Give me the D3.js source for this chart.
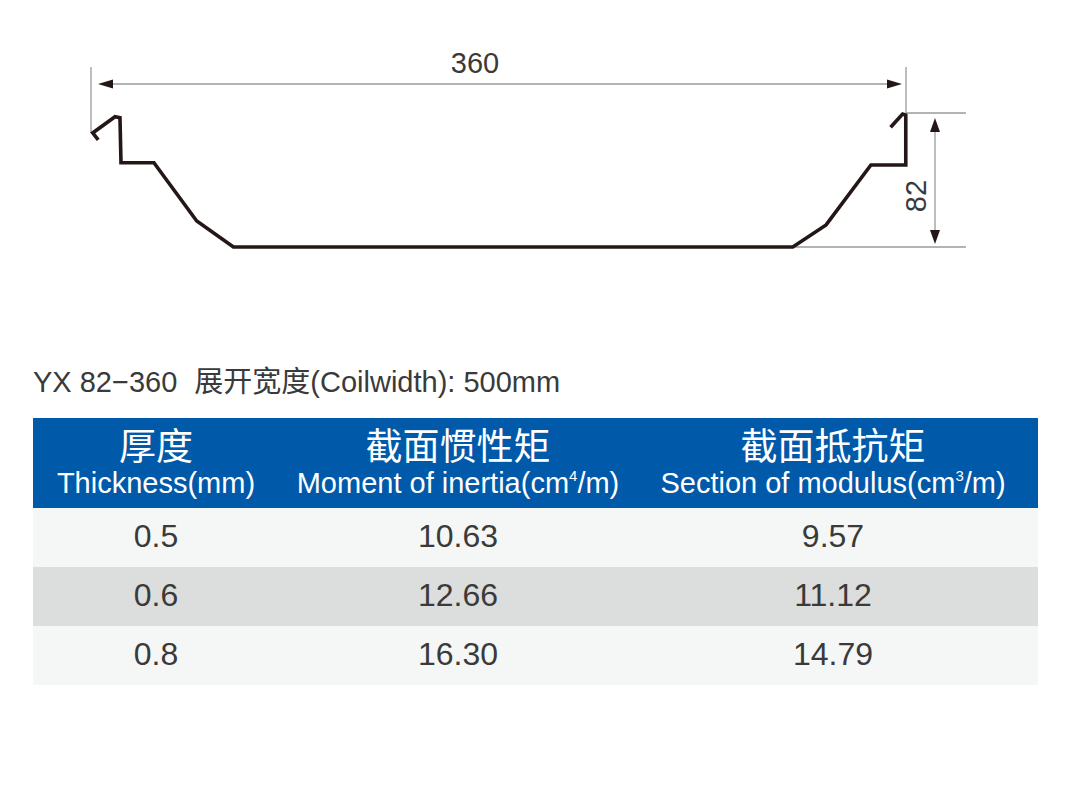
<!DOCTYPE html>
<html><head><meta charset="utf-8">
<script src="https://cdnjs.cloudflare.com/ajax/libs/d3/7.8.5/d3.min.js"></script>
<style>html,body{margin:0;padding:0;background:#fff}svg{display:block}
text{font-family:"Liberation Sans",Arial,sans-serif}
.cjk{font-family:"Noto Sans CJK SC","Liberation Sans",sans-serif}</style>
</head><body><svg id="c" width="1083" height="792"></svg>
<script>
// profile section in mm: [distance along width, height above base]
const profileX=[3.2,0.75,10.6,12.8,13.25,27.8,46.7,62.9,310,324.7,344.5,359.9,359.9,358.5,353.2];
const profileH=[65.5,69.8,79.7,79.1,51.6,51.6,15.9,0,0,13.5,50.2,50.2,80.8,81.4,73.3];
const widthLabel="360", heightLabel="82";
const titleLatin1="YX 82−360", titleCjk="展开宽度", titleLatin2="(Coilwidth): 500mm";
const columnsZh=["厚度","截面惯性矩","截面抵抗矩"];
const thickness=["0.5","0.6","0.8"];
const inertia=["10.63","12.66","16.30"];
const modulus=["9.57","11.12","14.79"];

const svg=d3.select("#c");
const x=d3.scaleLinear().domain([0,360]).range([91,906]);
const y=d3.scaleLinear().domain([0,82]).range([247,113]);
const grey="#9a9a9a", ink="#231815", txt="#3a3a3a";

function seg(x1,y1,x2,y2,w=1.3,c=grey){svg.append("line").attr("x1",x1).attr("y1",y1).attr("x2",x2).attr("y2",y2).attr("stroke",c).attr("stroke-width",w);}
// extension lines
seg(x(0),67,x(0),133);
seg(x(360),67,x(360),113);
seg(x(360),y(82),966,y(82));
seg(x(305),y(0),966,y(0));
// dimension lines
const dimY=84, dimX=935;
seg(x(0)+12,dimY,x(360)-12,dimY);
seg(dimX,y(82)+12,dimX,y(0)-12);
function arrow(pts){svg.append("path").attr("d",d3.line()(pts)+"Z").attr("fill",ink);}
arrow([[x(0)+7,dimY],[x(0)+22,dimY-4.5],[x(0)+22,dimY+4.5]]);
arrow([[x(360)-4,dimY],[x(360)-19,dimY-4.5],[x(360)-19,dimY+4.5]]);
arrow([[dimX,y(82)+5],[dimX-5,y(82)+19],[dimX+5,y(82)+19]]);
arrow([[dimX,y(0)-3],[dimX-5,y(0)-17],[dimX+5,y(0)-17]]);
svg.append("text").attr("x",475).attr("y",73).attr("text-anchor","middle").attr("font-size",29).attr("fill",txt).text(widthLabel);
svg.append("text").attr("transform","translate(926,196) rotate(-90)").attr("text-anchor","middle").attr("font-size",29).attr("fill",txt).text(heightLabel);

// profile
svg.append("path").datum(d3.zip(profileX,profileH))
  .attr("d",d3.line().x(d=>x(d[0])).y(d=>y(d[1])))
  .attr("fill","none").attr("stroke",ink).attr("stroke-width",3.6).attr("stroke-linejoin","miter");

// title
const t=svg.append("text").attr("x",33).attr("y",392).attr("font-size",29).attr("fill",txt);
t.append("tspan").text(titleLatin1);
t.append("tspan").attr("dx",17).attr("class","cjk").attr("font-size",29).text(titleCjk);
t.append("tspan").text(titleLatin2);

// table
const tableX=[33,1038];
const colX=d3.scaleOrdinal([0,1,2],[156,458,833]);
const rowY=d3.scaleBand().domain(thickness).range([508,685]);
svg.append("rect").attr("x",tableX[0]).attr("y",418).attr("width",tableX[1]-tableX[0]).attr("height",90).attr("fill","#0059a9");
svg.selectAll("rect.row").data(thickness).join("rect").attr("class","row")
  .attr("x",tableX[0]).attr("width",tableX[1]-tableX[0])
  .attr("y",d=>rowY(d)).attr("height",rowY.bandwidth())
  .attr("fill",(d,i)=>i%2?"#dcdddd":"#f5f6f6");
svg.selectAll("text.zh").data(columnsZh).join("text").attr("class","zh cjk")
  .attr("x",(d,i)=>colX(i)).attr("y",460).attr("text-anchor","middle")
  .attr("font-size",37).attr("fill","#fff").text(d=>d);
const en=[["Thickness(mm)"],["Moment of inertia(cm","4","/m)"],["Section of modulus(cm","3","/m)"]];
en.forEach((parts,i)=>{
  const e=svg.append("text").attr("x",colX(i)).attr("y",493).attr("text-anchor","middle").attr("font-size",29).attr("fill","#fff");
  e.append("tspan").text(parts[0]);
  if(parts[1]){
    e.append("tspan").attr("dy",-12).attr("font-size",15).text(parts[1]);
    e.append("tspan").attr("dy",12).text(parts[2]);
  }
});
[thickness,inertia,modulus].forEach((col,i)=>{
  svg.selectAll("text.c"+i).data(col).join("text").attr("class","c"+i)
    .attr("x",colX(i)).attr("y",(d,j)=>rowY(thickness[j])+rowY.bandwidth()/2+9)
    .attr("text-anchor","middle").attr("font-size",32).attr("fill",txt).text(d=>d);
});
</script></body></html>
